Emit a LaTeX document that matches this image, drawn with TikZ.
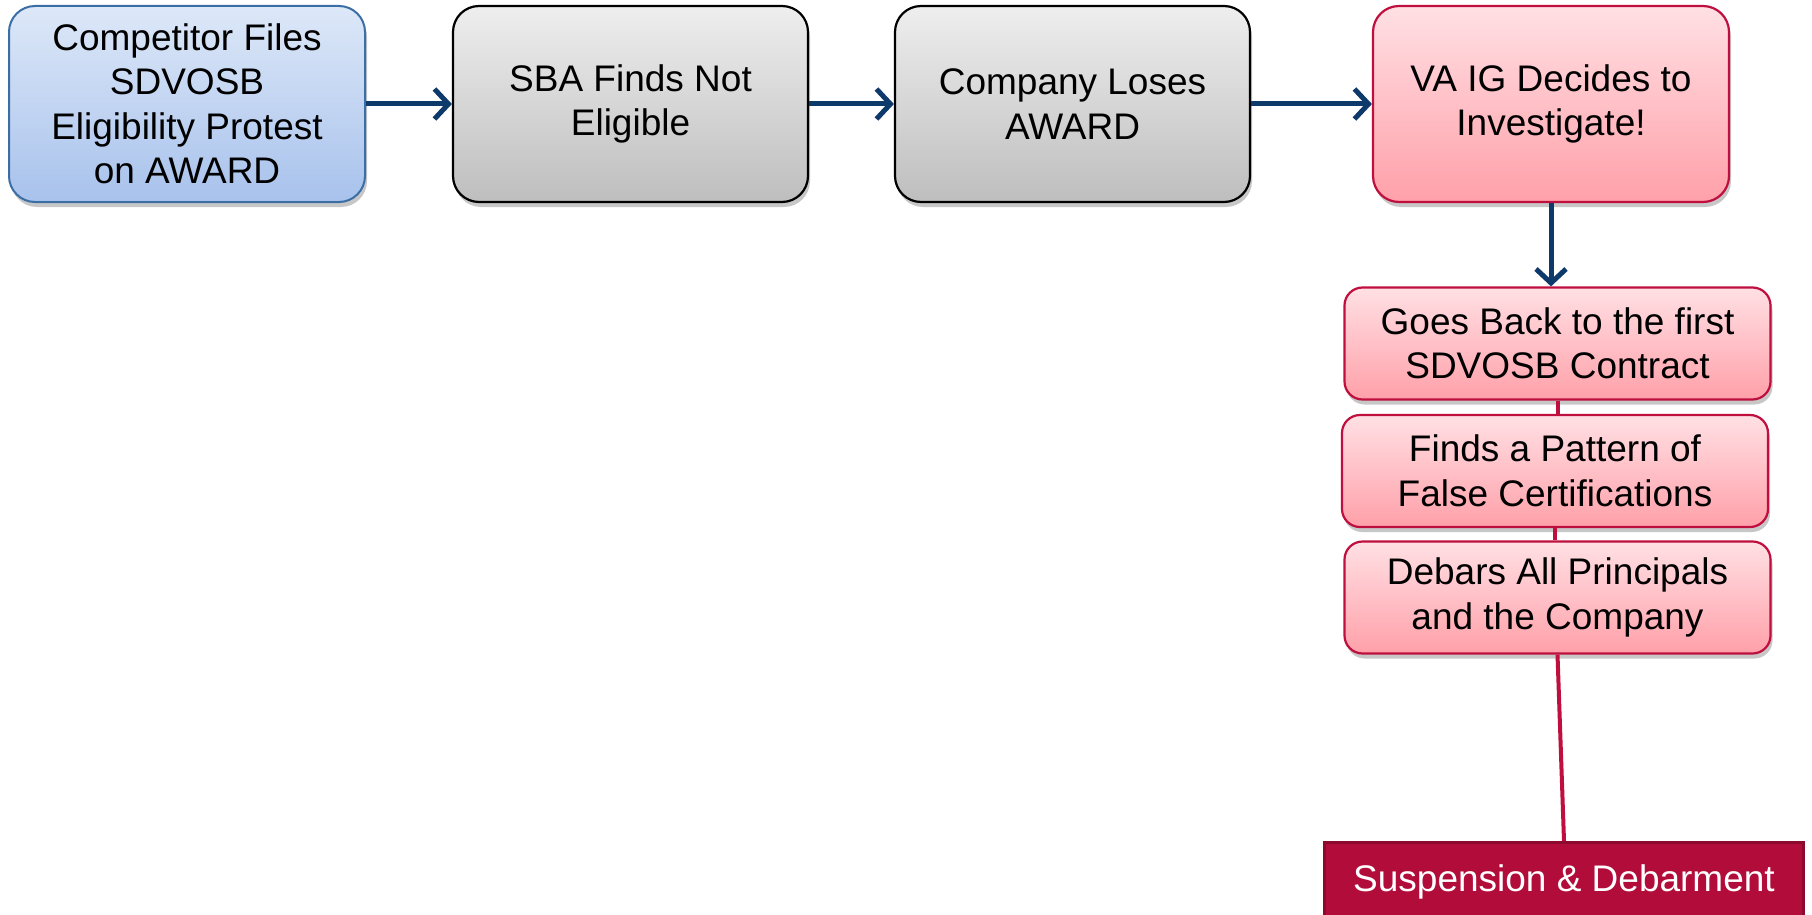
\documentclass[tikz,border=0pt]{standalone}
\usepackage{fontspec}
\setmainfont{Liberation Sans}
\usetikzlibrary{arrows.meta,shadows}
\definecolor{bluetop}{HTML}{DDE8F8}
\definecolor{bluebot}{HTML}{A8C2EC}
\definecolor{blueline}{HTML}{3A6EA5}
\definecolor{graytop}{HTML}{EEEEEE}
\definecolor{graybot}{HTML}{BEBEBE}
\definecolor{pinktop}{HTML}{FFE0E4}
\definecolor{pinkbot}{HTML}{FFA0A9}
\definecolor{crimson}{HTML}{BE0F3E}
\definecolor{sdfill}{HTML}{B20C3A}
\definecolor{sdline}{HTML}{8B0A2E}
\definecolor{arrowblue}{HTML}{0E3A6B}
\begin{document}
\begin{tikzpicture}[x=1pt,y=-1pt,
  txt/.style={font=\fontsize{37}{44.5}\selectfont, align=center, inner sep=0pt},
  shade/.style={drop shadow={shadow xshift=2pt, shadow yshift=-5pt, opacity=0.22, fill=black}},
  bluebox/.style={txt, shade, rounded corners=26pt, draw=blueline, line width=2pt,
    top color=bluetop, bottom color=bluebot, minimum width=356pt, minimum height=196pt},
  graybox/.style={txt, shade, rounded corners=26pt, draw=black, line width=2.2pt,
    top color=graytop, bottom color=graybot, minimum width=355pt, minimum height=196pt},
  pinkbig/.style={txt, shade, rounded corners=26pt, draw=crimson, line width=2.2pt,
    top color=pinktop, bottom color=pinkbot, minimum width=356pt, minimum height=196pt},
  pinksmall/.style={txt, shade, rounded corners=18pt, draw=crimson, line width=2.2pt,
    top color=pinktop, bottom color=pinkbot, minimum width=426pt, minimum height=112pt},
  sdbox/.style={txt, fill=sdfill, draw=sdline, line width=3pt, text=white,
    minimum width=479pt, minimum height=78pt},
  flow/.style={draw=arrowblue, line width=5pt, -{Straight Barb[length=14pt,width=30pt]}},
  link/.style={draw=crimson, line width=4pt}
]
\useasboundingbox (0,0) rectangle (1812,915);

\node[bluebox] (b1) at (187,104) {Competitor Files\\SDVOSB\\Eligibility Protest\\on AWARD};
\node[graybox] (b2) at (630.5,104) {SBA Finds Not\\Eligible};
\node[graybox] (b3) at (1072.5,104) {Company Loses\\AWARD};
\node[pinkbig] (b4) at (1551,104) {VA IG Decides to\\Investigate!};

\node[pinksmall] (b5) at (1557.5,343.5) {Goes Back to the first\\SDVOSB Contract};
\node[pinksmall] (b6) at (1555,471) {Finds a Pattern of\\False Certifications};
\node[pinksmall] (b7) at (1557.5,597.5) {Debars All Principals\\and the Company};

\node[sdbox, anchor=north] (sd) at (1564,841) {Suspension \& Debarment};

\draw[link] (b5.south) -- (b5.south |- b6.north);
\draw[link] (b6.south) -- (b6.south |- b7.north);
\draw[link] (b7.south) -- (sd.north);

\draw[flow] (b1) -- (b2);
\draw[flow] (b2) -- (b3);
\draw[flow] (b3) -- (b4);
\draw[flow] (b4) -- (b4.south |- b5.north);
\end{tikzpicture}
\end{document}
